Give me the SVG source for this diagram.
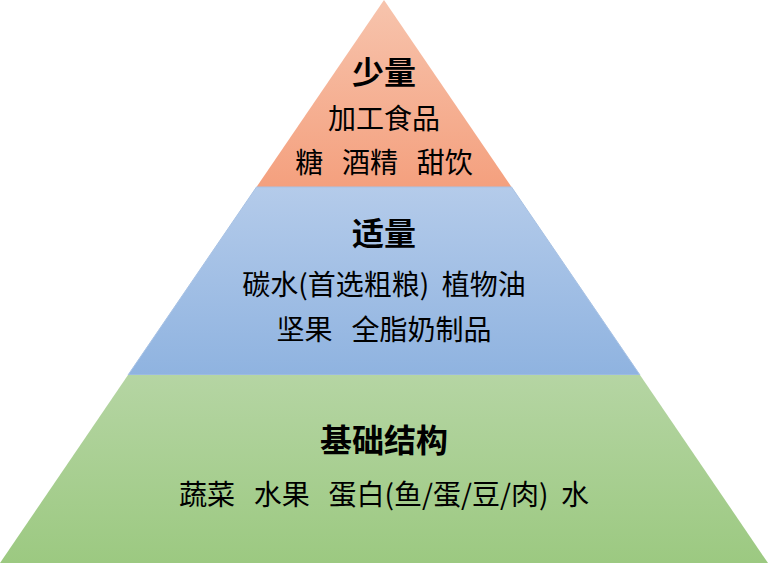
<svg xmlns="http://www.w3.org/2000/svg" width="768" height="563" viewBox="0 0 768 563">
<defs>
<linearGradient id="gt" x1="0" y1="0" x2="0" y2="1"><stop offset="0" stop-color="#f7c4ad"/><stop offset="1" stop-color="#f4a07e"/></linearGradient>
<linearGradient id="gm" x1="0" y1="0" x2="0" y2="1"><stop offset="0" stop-color="#b4cbea"/><stop offset="1" stop-color="#8fb3e0"/></linearGradient>
<linearGradient id="gb" x1="0" y1="0" x2="0" y2="1"><stop offset="0" stop-color="#b5d5a3"/><stop offset="1" stop-color="#9cc981"/></linearGradient>
<style>
text{font-family:"Noto Sans CJK SC",sans-serif;text-anchor:middle;fill:#000;font-size:28px}
.h{font-weight:bold;font-size:32px}
</style>
</defs>
<g id="top"><polygon points="384,0 511.5,187 256.5,187" fill="url(#gt)"/>
<text class="h" x="384" y="84">少量</text>
<text x="384" y="129">加工食品</text>
<text x="384" y="173" xml:space="preserve">糖   酒精   甜饮</text></g>
<g id="mid"><polygon points="256.5,187 511.5,187 640,375 128,375" fill="url(#gm)" stroke="#a8c2e4" stroke-width="1"/>
<text class="h" x="384" y="245">适量</text>
<text x="384" y="295" xml:space="preserve">碳水(首选粗粮)  植物油</text>
<text x="384" y="340" xml:space="preserve">坚果   全脂奶制品</text></g>
<g id="base"><polygon points="128,375 640,375 768,563 0,563" fill="url(#gb)"/>
<text class="h" x="384" y="452">基础结构</text>
<text x="384" y="505" xml:space="preserve">蔬菜   水果   蛋白(鱼/蛋/豆/肉)  水</text></g>
<g id="connectors"/>
</svg>
